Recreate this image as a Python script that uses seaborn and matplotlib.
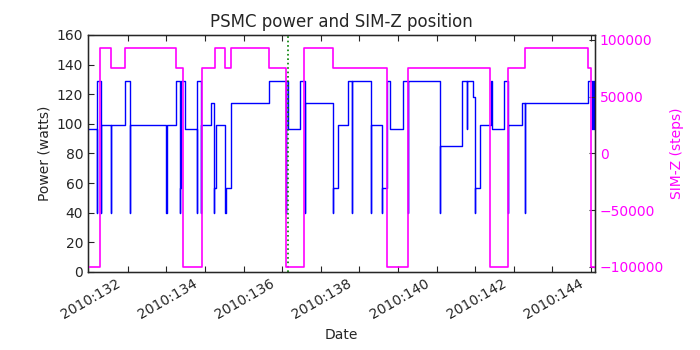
import matplotlib
matplotlib.use("Agg")
import matplotlib.pyplot as plt
import matplotlib.transforms as mtransforms
import pandas as pd
import seaborn as sns


# Dane (czas jako dzien roku 2010)
power_time = [130.972, 131.205, 131.210, 131.309, 131.314, 131.568, 131.573,
              131.938, 132.060, 132.065, 133.004, 133.009, 133.243, 133.346,
              133.351, 133.388, 133.491, 133.802, 133.807, 133.905, 133.910,
              134.156, 134.234, 134.239, 134.286, 134.532, 134.537, 134.687,
              135.666, 136.105, 136.110, 136.157, 136.468, 136.590, 136.595,
              137.322, 137.327, 137.452, 137.711, 137.814, 137.819, 138.290,
              138.295, 138.591, 138.596, 138.705, 138.790, 139.134, 139.256,
              139.261, 140.084, 140.089, 140.672, 140.776, 140.781, 140.946,
              140.983, 140.988, 141.120, 141.405, 141.430, 141.749, 141.858,
              141.863, 142.207, 142.280, 142.285, 143.916, 144.032, 144.055,
              144.080, 144.104]
power_watts = [96.5, 40, 129, 40, 99, 40, 99,
               129, 40, 99, 40, 99, 129, 40,
               57, 129, 96.5, 40, 129, 40, 99,
               114, 40, 57, 99, 40, 57, 114,
               129, 40, 129, 96.5, 129, 40, 114,
               40, 57, 99, 129, 40, 129, 40,
               99, 40, 57, 129, 96.5, 129, 40,
               129, 40, 85.3, 129, 96.5, 129, 118,
               40, 57, 99, 129, 96.5, 129, 40,
               99, 114, 40, 114, 129, 96.5, 129,
               96.5, 96.5]

simz_time = [130.972, 131.296, 131.568, 131.938, 133.250, 133.424, 133.916,
             134.250, 134.525, 134.687, 135.666, 136.100, 136.575, 137.330,
             138.720, 139.256, 141.379, 141.858, 142.285, 143.916, 143.997,
             144.104]
simz_steps = [-99616, 92904, 75624, 92904, 75624, -99616, 75624,
              92904, 75624, 92904, 75624, -99616, 92904, 75624,
              -99616, 75624, -99616, 75624, 92904, 75624, -99616,
              -99616]

marker_time = 136.15

day_ticks = list(range(132, 145))
day_labels = ["2010:%d" % d if d % 2 == 0 else "" for d in day_ticks]
power_ticks = list(range(0, 161, 20))
simz_ticks = [-100000, -50000, 0, 50000, 100000]


power_df = pd.DataFrame({"time": power_time, "power": power_watts})
simz_df = pd.DataFrame({"time": simz_time, "simz": simz_steps})

sns.set_style("white", {"xtick.direction": "in", "ytick.direction": "in"})
plt.rcParams["font.family"] = ["DejaVu Sans"]
plt.rcParams["font.size"] = 10
plt.rcParams["xtick.top"] = True
plt.rcParams["xtick.bottom"] = True
plt.rcParams["ytick.left"] = True

fig = plt.figure(figsize=(7, 3.5), dpi=100)
ax = fig.add_axes([0.1257, 0.223, 0.7243, 0.677])

sns.lineplot(data=power_df, x="time", y="power", ax=ax, color="#0000ff",
             linewidth=1, drawstyle="steps-post", estimator=None, sort=False)
ax.axvline(marker_time, color="g", linestyle=":", linewidth=1.2)

ax.set_xlim(130.972, 144.104)
ax.set_ylim(0, 160)
ax.set_yticks(power_ticks)
ax.set_xticks(day_ticks)
ax.set_xticklabels(day_labels, rotation=30, ha="right")
ax.set_xlabel("Date", fontsize=10)
ax.set_ylabel("Power (watts)", fontsize=10)
ax.set_title("PSMC power and SIM-Z position", fontsize=12)
ax.tick_params(axis="both", length=4, width=0.8, labelsize=10)
ax.tick_params(axis="x", top=True)

# Etykiety dat lekko przesuniete w lewo jak na oryginale
shift = mtransforms.ScaledTranslation(-5 / 100, 0, fig.dpi_scale_trans)
for label in ax.get_xticklabels():
    label.set_transform(label.get_transform() + shift)

ax2 = ax.twinx()
sns.lineplot(data=simz_df, x="time", y="simz", ax=ax2, color="#ff00ff",
             linewidth=1.2, drawstyle="steps-post", estimator=None, sort=False)
ax2.set_xlim(130.972, 144.104)
ax2.set_ylim(-104400, 104400)
ax2.set_yticks(simz_ticks)
ax2.set_ylabel("SIM-Z (steps)", color="#ff00ff", fontsize=10)
ax2.tick_params(axis="y", direction="in", length=4, width=0.8,
                labelcolor="#ff00ff", labelsize=10)
ax2.set_xlabel("")

for spine in ax.spines.values():
    spine.set_color("black")
    spine.set_linewidth(1)

fig.savefig("out.png", dpi=100)
plt.close(fig)
